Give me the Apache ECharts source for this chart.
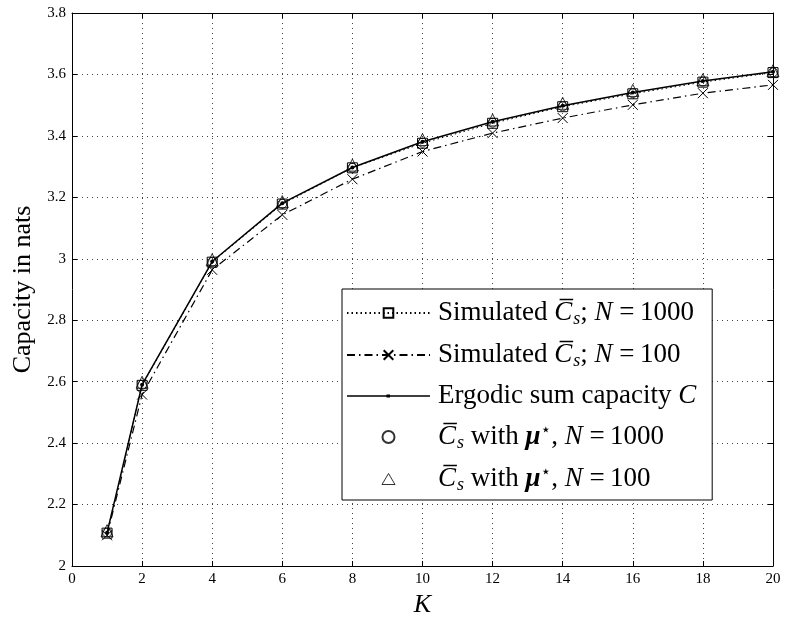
<!DOCTYPE html>
<html>
<head>
<meta charset="utf-8">
<script src="https://cdn.jsdelivr.net/npm/echarts@6/dist/echarts.min.js"></script>
<style>
html,body{margin:0;padding:0;background:#fff;}
#chart{width:786px;height:625px;}
</style>
</head>
<body>
<div id="chart"></div>
<script>
// ---- data ----
var kValues = [1, 2, 4, 6, 8, 10, 12, 14, 16, 18, 20];
var simN1000 = [2.107, 2.588, 2.989, 3.178, 3.296, 3.376, 3.441, 3.495, 3.537, 3.575, 3.606];
var simN100 = [2.100, 2.558, 2.964, 3.143, 3.259, 3.349, 3.409, 3.458, 3.501, 3.539, 3.566];
var ergodicC = [2.108, 2.590, 2.991, 3.181, 3.297, 3.381, 3.446, 3.498, 3.541, 3.579, 3.609];
var muN1000 = [2.109, 2.590, 2.990, 3.179, 3.296, 3.378, 3.443, 3.496, 3.539, 3.577, 3.607];
var muN100 = [2.115, 2.598, 2.997, 3.186, 3.305, 3.388, 3.452, 3.506, 3.548, 3.583, 3.612];

function pairs(ys) { return kValues.map(function (k, i) { return [k, ys[i]]; }); }

var SERIF = '"Liberation Serif", "DejaVu Serif", serif';
var CBAR = 'C\u0305';
var EQ = ' =\u2009';
var legendText = {
  simN1000: 'Simulated {ci|' + CBAR + '}{sub|s}; {it|N}' + EQ + '1000',
  simN100: 'Simulated {ci|' + CBAR + '}{sub|s}; {it|N}' + EQ + '100',
  ergodic: 'Ergodic sum capacity {it|C}',
  muN1000: '{ci|' + CBAR + '}{sub|s} with {mu|\u03bc}{sup|\u22c6}, {it|N}' + EQ + '1000',
  muN100: '{ci|' + CBAR + '}{sub|s} with {mu|\u03bc}{sup|\u22c6}, {it|N}' + EQ + '100'
};

var legW = 83, legH = 12;
var ergIcon = 'path://M0,5.3L' + legW + ',5.3L' + legW + ',6.7L0,6.7Z M39.5,4.5L43,4.5L43,7.5L39.5,7.5Z';
var triIcon = 'path://M0,0L0,0 M' + legW + ',' + legH + 'L' + legW + ',' + legH +
  ' M35,11.5L41.5,0.5L48,11.5Z';

var hollow = { color: 'rgba(0,0,0,0)', borderColor: '#000', borderWidth: 1 };
var xSym = 'path://M0,0L10,10M10,0L0,10';

var chart = echarts.init(document.getElementById('chart'), null, { renderer: 'canvas' });
var gridLine = { show: true, lineStyle: { color: '#444', type: [1, 4], width: 1 } };
var FS = 27;
var option = {
  backgroundColor: '#fff',
  animation: false,
  grid: { left: 72, right: 13, top: 13, bottom: 59, containLabel: false },
  xAxis: [{
    type: 'value', min: 0, max: 20, interval: 2,
    name: 'K', nameLocation: 'middle', nameGap: 25,
    nameTextStyle: { fontFamily: SERIF, fontStyle: 'italic', fontSize: 26, color: '#000' },
    axisLine: { show: true, onZero: false, lineStyle: { color: '#000', width: 1 } },
    axisTick: { show: true, inside: true, length: 5, lineStyle: { color: '#000' } },
    axisLabel: { fontFamily: SERIF, fontSize: 15, color: '#000', margin: 6 },
    splitLine: gridLine
  }, {
    type: 'value', min: 0, max: 20, interval: 2, position: 'top',
    axisLine: { show: true, onZero: false, lineStyle: { color: '#000', width: 1 } },
    axisTick: { show: true, inside: true, length: 5, lineStyle: { color: '#000' } },
    axisLabel: { show: false }, splitLine: { show: false }
  }],
  yAxis: [{
    type: 'value', min: 2, max: 3.8, interval: 0.2,
    name: 'Capacity in nats', nameLocation: 'middle', nameGap: 35, nameRotate: 90,
    nameTextStyle: { fontFamily: SERIF, fontSize: 26, color: '#000' },
    axisLine: { show: true, onZero: false, lineStyle: { color: '#000', width: 1 } },
    axisTick: { show: true, inside: true, length: 5, lineStyle: { color: '#000' } },
    axisLabel: { fontFamily: SERIF, fontSize: 15, color: '#000', margin: 6,
      formatter: function (v) { return String(Math.round(v * 10) / 10); } },
    splitLine: gridLine
  }, {
    type: 'value', min: 2, max: 3.8, interval: 0.2, position: 'right',
    axisLine: { show: true, onZero: false, lineStyle: { color: '#000', width: 1 } },
    axisTick: { show: true, inside: true, length: 5, lineStyle: { color: '#000' } },
    axisLabel: { show: false }, splitLine: { show: false }
  }],
  legend: {
    orient: 'vertical', left: 342, top: 289,
    backgroundColor: '#fff', borderColor: '#000', borderWidth: 1,
    padding: [9, 16, 6, 4], itemGap: 12, itemWidth: legW, itemHeight: legH,
    selectedMode: false, symbolKeepAspect: true,
    data: [
      { name: 'simN1000' },
      { name: 'simN100' },
      { name: 'ergodic', icon: ergIcon, itemStyle: { color: '#000', borderWidth: 0 } },
      { name: 'muN1000' },
      { name: 'muN100', icon: triIcon, itemStyle: hollow }
    ],
    formatter: function (n) { return legendText[n]; },
    textStyle: {
      fontFamily: SERIF, fontSize: FS, color: '#000', lineHeight: 28, padding: [0, 0, 0, 3],
      rich: {
        ci: { fontFamily: SERIF, fontStyle: 'italic', fontSize: FS, lineHeight: 28 },
        it: { fontFamily: SERIF, fontStyle: 'italic', fontSize: FS, lineHeight: 28 },
        sub: { fontFamily: SERIF, fontStyle: 'italic', fontSize: 18, lineHeight: 28, padding: [12, 0, 0, 1] },
        mu: { fontFamily: SERIF, fontStyle: 'italic', fontWeight: 'bold', fontSize: FS, lineHeight: 28 },
        sup: { fontFamily: '"DejaVu Sans", sans-serif', fontSize: 17, lineHeight: 28, padding: [0, 0, 12, 0] }
      }
    }
  },
  series: [{
    name: 'simN1000', type: 'line', data: pairs(simN1000),
    symbol: 'rect', symbolSize: 10, showAllSymbol: true,
    lineStyle: { color: '#000', width: 1, type: [1.5, 3] },
    itemStyle: hollow, z: 3
  }, {
    name: 'simN100', type: 'line', data: pairs(simN100),
    symbol: xSym, symbolSize: 10, showAllSymbol: true,
    lineStyle: { color: '#000', width: 1.2, type: [8, 4, 1.5, 4] },
    itemStyle: hollow, z: 3
  }, {
    name: 'ergodic', type: 'line', data: pairs(ergodicC),
    symbol: 'circle', symbolSize: 4, showAllSymbol: true,
    lineStyle: { color: '#000', width: 1.5 },
    itemStyle: { color: '#000', borderWidth: 0 }, z: 4
  }, {
    name: 'muN1000', type: 'scatter', data: pairs(muN1000),
    symbol: 'circle', symbolSize: 9,
    itemStyle: hollow, z: 3
  }, {
    name: 'muN100', type: 'scatter', data: pairs(muN100),
    symbol: 'triangle', symbolSize: 12,
    itemStyle: hollow, z: 3
  }]
};
chart.setOption(option);
</script>
</body>
</html>
